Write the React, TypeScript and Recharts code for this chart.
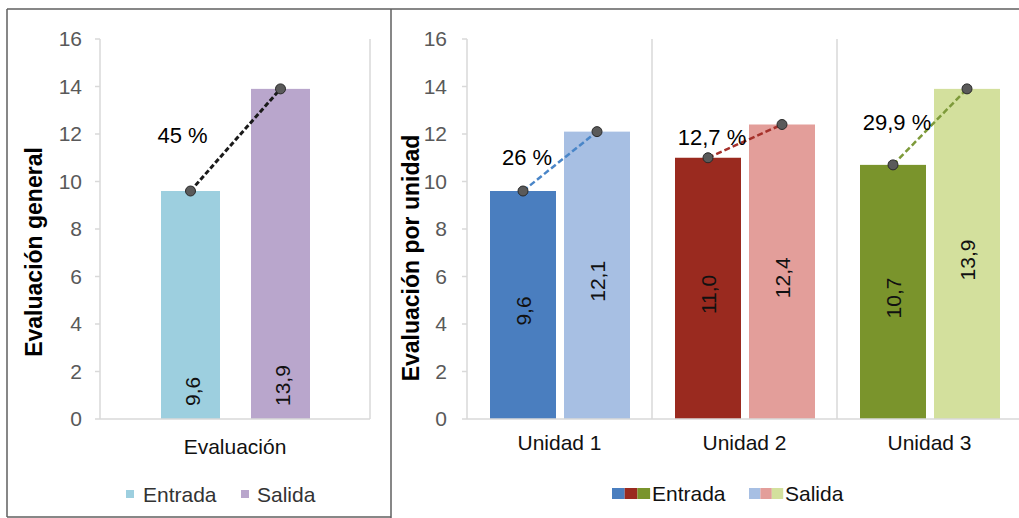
import React from 'react';
import { BarChart, Bar, XAxis, YAxis, ReferenceLine, Cell, Label } from 'recharts';

// ---------- data ----------
const generalCategories = ['Evaluación'];
const generalEntrada = [9.6];
const generalSalida = [13.9];
const generalChange = ['45 %'];

const unitCategories = ['Unidad 1', 'Unidad 2', 'Unidad 3'];
const unitEntrada = [9.6, 11.0, 10.7];
const unitSalida = [12.1, 12.4, 13.9];
const unitChange = ['26 %', '12,7 %', '29,9 %'];

const yTicks = [0, 2, 4, 6, 8, 10, 12, 14, 16];
const seriesNames = ['Entrada', 'Salida'];
const titleGeneral = 'Evaluación general';
const titleUnit = 'Evaluación por unidad';

// ---------- colours ----------
const generalEntradaColors = ['#9dcfdf'];
const generalSalidaColors = ['#b9a6cc'];
const generalLineColors = ['#1a1a1a'];
const unitEntradaColors = ['#4a7ebf', '#9a2a1f', '#7a942c'];
const unitSalidaColors = ['#a7bfe3', '#e39e9a', '#d3e09d'];
const unitLineColors = ['#4a86c8', '#a5302a', '#7d9a3a'];

const FONT = '"Liberation Sans", Arial, Helvetica, sans-serif';
const GRID = '#d9d9d9';

type Row = { name: string; entrada: number; salida: number; change: string };

const buildRows = (cats: string[], ent: number[], sal: number[], chg: string[]): Row[] =>
  cats.map((name, i) => ({ name, entrada: ent[i], salida: sal[i], change: chg[i] }));

const fmt = (v: number) => v.toFixed(1).replace('.', ',');

type ShapeOpts = {
  gap: number;
  mode: 'base' | 'center';
  lineColors: string[];
  lineWidth: number;
  dash: string;
  pctDx: number;
};

const valueText = (cx: number, y: number, height: number, v: number, mode: 'base' | 'center') => {
  const baseline = y + height;
  if (mode === 'base') {
    const tx = cx + 2;
    const ty = baseline - 13;
    return (
      <text x={tx} y={ty} transform={`rotate(-90 ${tx} ${ty})`} textAnchor="start"
        dominantBaseline="central" fontSize={21} fill="#111" fontFamily={FONT}>{fmt(v)}</text>
    );
  }
  const tx = cx;
  const ty = y + height / 2 + 6;
  return (
    <text x={tx} y={ty} transform={`rotate(-90 ${tx} ${ty})`} textAnchor="middle"
      dominantBaseline="central" fontSize={21} fill="#111" fontFamily={FONT}>{fmt(v)}</text>
  );
};

const makeEntradaShape = (opts: ShapeOpts) => (props: any) => {
  const { x, y, width, height, fill, payload } = props;
  return (
    <g>
      <rect x={x} y={y} width={width} height={height} fill={fill} />
      {valueText(x + width / 2, y, height, payload.entrada, opts.mode)}
    </g>
  );
};

const makeSalidaShape = (opts: ShapeOpts) => (props: any) => {
  const { x, y, width, height, fill, payload, index } = props;
  const baseline = y + height;
  const perUnit = height / payload.salida;
  const ey = baseline - payload.entrada * perUnit;
  const ex = x - opts.gap - width / 2;
  const sx = x + width / 2;
  const midY = (ey + y) / 2;
  return (
    <g>
      <rect x={x} y={y} width={width} height={height} fill={fill} />
      {valueText(sx, y, height, payload.salida, opts.mode)}
      <line x1={ex} y1={ey} x2={sx} y2={y} stroke={opts.lineColors[index]}
        strokeWidth={opts.lineWidth} strokeDasharray={opts.dash} />
      <circle cx={ex} cy={ey} r={5} fill="#5a5a5a" stroke="#2a2a2a" strokeWidth={1} />
      <circle cx={sx} cy={y} r={5} fill="#5a5a5a" stroke="#2a2a2a" strokeWidth={1} />
      <text x={ex + opts.pctDx} y={midY - 4} textAnchor="middle" dominantBaseline="central"
        fontSize={22} fill="#000" fontFamily={FONT}>{payload.change}</text>
    </g>
  );
};

const axisTitle = (text: string, dx: number, dy: number) => (props: any) => {
  const vb = props.viewBox || {};
  const cx = vb.x + dx;
  const cy = vb.y + vb.height / 2 + dy;
  return (
    <text x={cx} y={cy} transform={`rotate(-90 ${cx} ${cy})`} textAnchor="middle"
      dominantBaseline="central" fontSize={23} fontWeight="bold" fill="#000" fontFamily={FONT}>{text}</text>
  );
};

type PanelProps = {
  rows: Row[];
  width: number;
  margin: { top: number; right: number; bottom: number; left: number };
  yAxisWidth: number;
  tickMargin: number;
  xTickMargin: number;
  barSize: number;
  barGap: number;
  entradaColors: string[];
  salidaColors: string[];
  opts: ShapeOpts;
  title: string;
  titleDx: number;
  titleDy: number;
};

const Panel = (p: PanelProps) => {
  const last = p.rows[p.rows.length - 1].name;
  const inner = p.rows.slice(1).map((r) => r.name);
  return (
    <BarChart width={p.width} height={518} data={p.rows} margin={p.margin}
      barSize={p.barSize} barGap={p.barGap} style={{ fontFamily: FONT }}>
      <XAxis dataKey="name" interval={0} axisLine={{ stroke: GRID, strokeWidth: 1.5 }} tickLine={false}
        tickSize={0} tickMargin={p.xTickMargin} height={30}
        tick={{ fill: '#111', fontSize: 21, fontFamily: FONT }} />
      <YAxis domain={[0, 16]} ticks={yTicks} width={p.yAxisWidth} tickSize={5} tickMargin={p.tickMargin}
        axisLine={{ stroke: GRID, strokeWidth: 1.5 }} tickLine={{ stroke: GRID, strokeWidth: 1.5 }}
        tick={{ fill: '#595959', fontSize: 21, fontFamily: FONT }} allowDataOverflow>
        <Label content={axisTitle(p.title, p.titleDx, p.titleDy)} />
      </YAxis>
      {inner.map((n) => (
        <ReferenceLine key={n} x={n} position="start" stroke={GRID} strokeWidth={1.5} />
      ))}
      <ReferenceLine x={last} position="end" stroke={GRID} strokeWidth={1.5} />
      <Bar dataKey="entrada" name={seriesNames[0]} isAnimationActive={false} shape={makeEntradaShape(p.opts)}>
        {p.rows.map((r, i) => (
          <Cell key={r.name} fill={p.entradaColors[i]} />
        ))}
      </Bar>
      <Bar dataKey="salida" name={seriesNames[1]} isAnimationActive={false} shape={makeSalidaShape(p.opts)}>
        {p.rows.map((r, i) => (
          <Cell key={r.name} fill={p.salidaColors[i]} />
        ))}
      </Bar>
    </BarChart>
  );
};

const generalRows = buildRows(generalCategories, generalEntrada, generalSalida, generalChange);
const unitRows = buildRows(unitCategories, unitEntrada, unitSalida, unitChange);

export default function App() {
  return (
    <div style={{ position: 'fixed', left: 0, top: 0, width: 1019, height: 518, overflow: 'hidden',
      background: '#fff', fontFamily: FONT }}>
      <div style={{ position: 'absolute', left: 0, top: 0 }}>
        <Panel rows={generalRows} width={391} margin={{ top: 39, right: 21, bottom: 69, left: 0 }}
          yAxisWidth={100} tickMargin={13} xTickMargin={20} barSize={59} barGap={31}
          entradaColors={generalEntradaColors} salidaColors={generalSalidaColors}
          opts={{ gap: 31, mode: 'base', lineColors: generalLineColors, lineWidth: 3, dash: '5 2.5', pctDx: -8 }}
          title={titleGeneral} titleDx={34} titleDy={23} />
      </div>
      <div style={{ position: 'absolute', left: 391, top: 0 }}>
        <Panel rows={unitRows} width={640} margin={{ top: 39, right: 9, bottom: 69, left: 0 }}
          yAxisWidth={76} tickMargin={15} xTickMargin={16} barSize={66} barGap={8}
          entradaColors={unitEntradaColors} salidaColors={unitSalidaColors}
          opts={{ gap: 8, mode: 'center', lineColors: unitLineColors, lineWidth: 2.5, dash: '6 3', pctDx: 4 }}
          title={titleUnit} titleDx={20} titleDy={29} />
      </div>
      <svg width={1019} height={518} style={{ position: 'absolute', left: 0, top: 0, pointerEvents: 'none' }}>
        {/* frame */}
        <line x1={7} y1={9} x2={1019} y2={9} stroke="#5f5f5f" strokeWidth={1.5} />
        <line x1={7} y1={9} x2={7} y2={517} stroke="#5f5f5f" strokeWidth={1.5} />
        <line x1={391} y1={9} x2={391} y2={518} stroke="#5f5f5f" strokeWidth={1.5} />
        <line x1={7} y1={517} x2={391} y2={517} stroke="#5f5f5f" strokeWidth={1.5} />
        {/* left legend */}
        <rect x={126} y={490} width={8} height={8} fill={generalEntradaColors[0]} />
        <text x={143} y={502} fontSize={21} fill="#333" fontFamily={FONT}>{seriesNames[0]}</text>
        <rect x={241} y={490} width={8} height={8} fill={generalSalidaColors[0]} />
        <text x={257} y={502} fontSize={21} fill="#333" fontFamily={FONT}>{seriesNames[1]}</text>
        {/* right legend */}
        {unitEntradaColors.map((c, i) => (
          <rect key={'e' + i} x={612 + i * 12.7} y={488} width={12.7} height={11} fill={c} />
        ))}
        <text x={652} y={501} fontSize={21} fill="#111" fontFamily={FONT}>{seriesNames[0]}</text>
        {unitSalidaColors.map((c, i) => (
          <rect key={'s' + i} x={749 + i * 11.4} y={488} width={11.4} height={11} fill={c} />
        ))}
        <text x={785} y={501} fontSize={21} fill="#111" fontFamily={FONT}>{seriesNames[1]}</text>
      </svg>
    </div>
  );
}
